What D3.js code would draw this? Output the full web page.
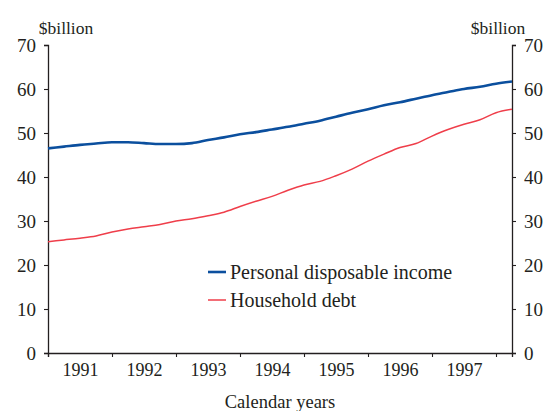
<!DOCTYPE html>
<html>
<head>
<meta charset="utf-8">
<script src="https://cdn.jsdelivr.net/npm/d3@7"></script>
<style>
  html, body { margin: 0; padding: 0; background: #fff; }
  svg { display: block; }
  text { font-family: "Liberation Serif", "DejaVu Serif", serif; fill: #231f20; }
</style>
</head>
<body>
<svg id="chart" width="544" height="411"></svg>
<script>
// Quarterly observations, March 1991 onwards ($ billion)
const years = ["1991", "1992", "1993", "1994", "1995", "1996", "1997"];
const yTicks = [0, 10, 20, 30, 40, 50, 60, 70];
const income = [46.5, 46.9, 47.3, 47.6, 47.9, 47.9, 47.7, 47.5, 47.5, 47.7,
                48.4, 49.0, 49.7, 50.2, 50.8, 51.4, 52.1, 52.8, 53.7, 54.6,
                55.4, 56.3, 57.0, 57.8, 58.6, 59.3, 60.0, 60.5, 61.2, 61.7];
const debt = [25.3, 25.7, 26.1, 26.6, 27.5, 28.2, 28.7, 29.2, 30.0, 30.5,
              31.2, 32.0, 33.3, 34.5, 35.6, 37.0, 38.2, 39.0, 40.3, 41.8,
              43.6, 45.2, 46.7, 47.6, 49.3, 50.8, 52.0, 53.0, 54.6, 55.4];
const seriesNames = ["Personal disposable income", "Household debt"];
const seriesColors = ["#0b4f9e", "#ef3e4a"];

const svg = d3.select("#chart");
const plot = { left: 48, right: 512, top: 45, bottom: 353 };

const x = d3.scaleLinear().domain([0, income.length - 1]).range([plot.left, plot.right]);
const y = d3.scaleLinear().domain([0, 70]).range([plot.bottom, plot.top]);

// Left and right value axes
const yl = svg.append("g").attr("transform", `translate(${plot.left},0)`)
  .call(d3.axisLeft(y).tickValues(yTicks).tickSize(4).tickPadding(8));
const yr = svg.append("g").attr("transform", `translate(${plot.right},0)`)
  .call(d3.axisRight(y).tickValues(yTicks).tickSize(4).tickPadding(8));
[yl, yr].forEach(g => {
  g.select(".domain").attr("stroke", "#231f20").attr("stroke-width", 1.3);
  g.selectAll(".tick line").attr("stroke", "#231f20").attr("stroke-width", 1.1);
  g.selectAll(".tick text").style("font-size", "19px").attr("font-family", "Liberation Serif").attr("dy", "0.34em");
});

// Year boundaries on the time axis
const yearStarts = years.map((d, i) => i * 4).concat([years.length * 4]);
const xb = svg.append("g").attr("transform", `translate(0,${plot.bottom})`)
  .call(d3.axisBottom(x).tickValues(yearStarts).tickSize(4).tickFormat(""));
xb.select(".domain").attr("stroke", "#231f20").attr("stroke-width", 1.3);
xb.selectAll(".tick line").attr("stroke", "#231f20").attr("stroke-width", 1.1);

// Year labels centred within each year
const yearMid = years.map((d, i) => i * 4 + 2);
const xl = svg.append("g").attr("transform", `translate(0,${plot.bottom})`)
  .call(d3.axisBottom(x).tickValues(yearMid).tickSize(0).tickPadding(10)
    .tickFormat((d, i) => years[i]));
xl.select(".domain").remove();
xl.selectAll(".tick text").style("font-size", "18px").attr("font-family", "Liberation Serif");

// Unit labels
svg.append("text").attr("x", 66).attr("y", 34).attr("text-anchor", "middle")
  .style("font-size", "17.5px").text("$billion");
svg.append("text").attr("x", 498).attr("y", 34).attr("text-anchor", "middle")
  .style("font-size", "17.5px").text("$billion");

// Axis title
svg.append("text").attr("x", 280).attr("y", 408).attr("text-anchor", "middle")
  .style("font-size", "18.5px").text("Calendar years");

// Series lines
const line = d3.line().x((d, i) => x(i)).y(d => y(d)).curve(d3.curveMonotoneX);
svg.append("path").datum(debt).attr("fill", "none")
  .attr("stroke", seriesColors[1]).attr("stroke-width", 1.5).attr("d", line);
svg.append("path").datum(income).attr("fill", "none")
  .attr("stroke", seriesColors[0]).attr("stroke-width", 2.6).attr("d", line);

// Legend
const legend = svg.append("g").attr("transform", "translate(208,272)");
seriesNames.forEach((name, i) => {
  const g = legend.append("g").attr("transform", `translate(0,${i * 28})`);
  g.append("line").attr("x1", 0).attr("x2", 18).attr("y1", 0).attr("y2", 0)
    .attr("stroke", seriesColors[i]).attr("stroke-width", i === 0 ? 2.6 : 1.5);
  g.append("text").attr("x", 22).attr("y", 0).attr("dy", "0.34em")
    .style("font-size", "20px").text(name);
});
</script>
</body>
</html>
